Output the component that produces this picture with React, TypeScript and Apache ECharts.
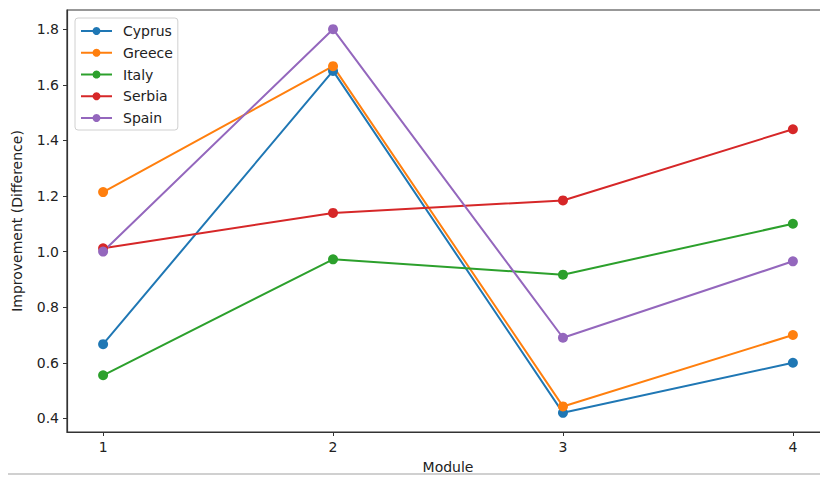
import React, { useEffect, useRef } from "react";
import * as echarts from "echarts";

const modules = [1, 2, 3, 4];
const countries = ["Cyprus", "Greece", "Italy", "Serbia", "Spain"];
const cyprus = [0.667, 1.65, 0.42, 0.6];
const greece = [1.214, 1.667, 0.443, 0.7];
const italy = [0.555, 0.972, 0.917, 1.1];
const serbia = [1.012, 1.139, 1.184, 1.44];
const spain = [1.0, 1.8, 0.69, 0.965];
const colors = ["#1f77b4", "#ff7f0e", "#2ca02c", "#d62728", "#9467bd"];
const yTicks = [0.4, 0.6, 0.8, 1.0, 1.2, 1.4, 1.6, 1.8];

export default function App() {
  const ref = useRef<HTMLDivElement>(null);
  useEffect(() => {
    if (!ref.current) return;
    const chart = echarts.init(ref.current, null, { renderer: "svg" });
    const all = [cyprus, greece, italy, serbia, spain];
    const font = "DejaVu Sans";
    chart.setOption({
      animation: false,
      textStyle: { fontFamily: font },
      grid: { left: 67, right: 0, top: 10, bottom: 47, show: true, borderColor: "#333", borderWidth: 1.2 },
      legend: {
        orient: "vertical",
        left: 75,
        top: 18,
        itemWidth: 31,
        itemHeight: 10,
        itemGap: 7.75,
        padding: [6, 5, 5, 5],
        borderColor: "#d0d0d0",
        borderWidth: 1,
        borderRadius: 3,
        backgroundColor: "#fff",
        textStyle: { fontFamily: font, fontSize: 14, color: "#222", padding: [0, 0, 0, 6] },
        data: countries,
      },
      xAxis: {
        type: "value",
        min: 0.843,
        max: 4.157,
        name: "Module",
        nameLocation: "middle",
        nameGap: 28,
        nameTextStyle: { fontFamily: font, fontSize: 14, color: "#222" },
        splitLine: { show: false },
        axisLine: { show: true, lineStyle: { color: "#333", width: 1.2 } },
        axisTick: { show: true, length: 4, lineStyle: { color: "#333" }, customValues: modules },
        axisLabel: { customValues: modules, fontSize: 14, color: "#222", margin: 8, fontFamily: font },
      },
      yAxis: {
        type: "value",
        min: 0.351,
        max: 1.869,
        name: "Improvement (Difference)",
        nameLocation: "middle",
        nameGap: 43,
        nameTextStyle: { fontFamily: font, fontSize: 14, color: "#222" },
        splitLine: { show: false },
        axisLine: { show: true, lineStyle: { color: "#333", width: 1.2 } },
        axisTick: { show: true, length: 4, lineStyle: { color: "#333" }, customValues: yTicks },
        axisLabel: {
          customValues: yTicks,
          fontSize: 14,
          color: "#222",
          margin: 8,
          fontFamily: font,
          formatter: (v: number) => v.toFixed(1),
        },
      },
      series: countries.map((c, i) => ({
        name: c,
        type: "line",
        data: modules.map((m, j) => [m, all[i][j]]),
        symbol: "circle",
        symbolSize: 10,
        itemStyle: { color: colors[i] },
        lineStyle: { color: colors[i], width: 2 },
      })),
      graphic: [
        {
          type: "line",
          shape: { x1: 8, y1: 474, x2: 829, y2: 474 },
          style: { stroke: "#c0c0c0", lineWidth: 1.5 },
        },
      ],
    });
    return () => chart.dispose();
  }, []);
  return (
    <div style={{ width: 820, height: 479, position: "absolute", left: 0, top: 0, overflow: "hidden", background: "#fff" }}>
      <div ref={ref} style={{ width: 829, height: 479 }} />
    </div>
  );
}
